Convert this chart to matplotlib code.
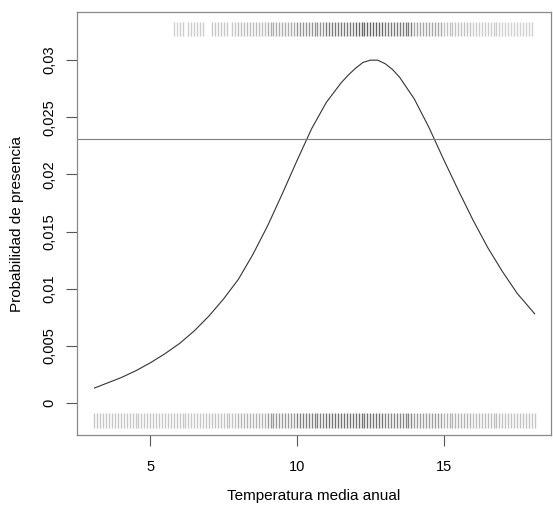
import numpy as np
import matplotlib
matplotlib.use("Agg")
import matplotlib.pyplot as plt

plt.rcParams['font.family'] = ['Liberation Sans', 'DejaVu Sans']

# curva
temp = [3.1, 3.5, 4.0, 4.5, 5.0, 5.5, 6.0, 6.5, 7.0, 7.5, 8.0, 8.5, 9.0, 9.5,
        10.0, 10.5, 11.0, 11.5, 11.75, 12.0, 12.25, 12.5, 12.75, 13.0, 13.25,
        13.5, 14.0, 14.5, 15.0, 15.5, 16.0, 16.5, 17.0, 17.5, 18.1]
prob = [0.0013, 0.0017, 0.0022, 0.0028, 0.0035, 0.0043, 0.0052, 0.0063,
        0.0076, 0.0091, 0.0108, 0.0130, 0.0155, 0.0183, 0.0212, 0.0240,
        0.0263, 0.0280, 0.0287, 0.0293, 0.0298, 0.0300, 0.0300, 0.0297,
        0.0292, 0.0285, 0.0266, 0.0241, 0.0213, 0.0186, 0.0160, 0.0136,
        0.0115, 0.0096, 0.0078]
umbral = 0.0231

# rug: tramos con datos (pasos de 0,1 grados) y tono gris por grado
rug_abajo_tramos = [(3.1, 18.1)]
rug_arriba_tramos = [(5.8, 6.1), (6.3, 6.8), (7.1, 7.6), (7.8, 18.0)]
grados = [3, 4, 5, 6, 7, 8, 9, 10, 11, 12, 13, 14, 15, 16, 17, 18]
gris_abajo = [0.78, 0.78, 0.78, 0.78, 0.76, 0.70, 0.60, 0.50, 0.45, 0.45,
              0.52, 0.62, 0.70, 0.74, 0.76, 0.78]
gris_arriba = [0.82, 0.82, 0.82, 0.80, 0.78, 0.74, 0.68, 0.58, 0.48, 0.40,
               0.48, 0.66, 0.76, 0.80, 0.82, 0.82]

yticks = [0, 0.005, 0.01, 0.015, 0.02, 0.025, 0.03]
ytick_labels = ['0', '0,005', '0,01', '0,015', '0,02', '0,025', '0,03']
xticks = [5, 10, 15]

fig = plt.figure(figsize=(5.53, 5.08), dpi=100)
ax = fig.add_axes([0.139, 0.144, 0.857, 0.832])

ax.plot(temp, prob, color='#333333', lw=0.8)
ax.axhline(umbral, color='#808080', lw=0.8)


def dibuja_rug(tramos, gris, y0, y1):
    for a, b in tramos:
        n = int(round((b - a) * 10)) + 1
        for k in range(n):
            t = round(a + k * 0.1, 1)
            g = gris[grados.index(int(t))]
            ax.plot([t, t], [y0, y1], color=str(g), lw=1.0,
                    transform=ax.get_xaxis_transform(), solid_capstyle='butt')


dibuja_rug(rug_abajo_tramos, gris_abajo, 0.017, 0.052)
dibuja_rug(rug_arriba_tramos, gris_arriba, 0.943, 0.976)

ax.set_xlim(2.5, 18.65)
ax.set_ylim(-0.0028, 0.0342)
ax.set_xticks(xticks)
ax.set_xticklabels([str(v) for v in xticks], fontsize=10.5)
ax.set_yticks(yticks)
ax.set_yticklabels(ytick_labels, fontsize=10.5, rotation=90, va='center')
ax.tick_params(length=8, width=0.8, color='#555555')
ax.tick_params(axis='x', pad=10)
ax.tick_params(axis='y', pad=7)
for s in ax.spines.values():
    s.set_color('#888888')
    s.set_linewidth(0.9)

ax.set_xlabel('Temperatura media anual', fontsize=11)
ax.set_ylabel('Probabilidad de presencia', fontsize=11)
ax.xaxis.set_label_coords(0.5, -0.128)
ax.yaxis.set_label_coords(-0.112, 0.5)

fig.savefig('out.png', dpi=100)
